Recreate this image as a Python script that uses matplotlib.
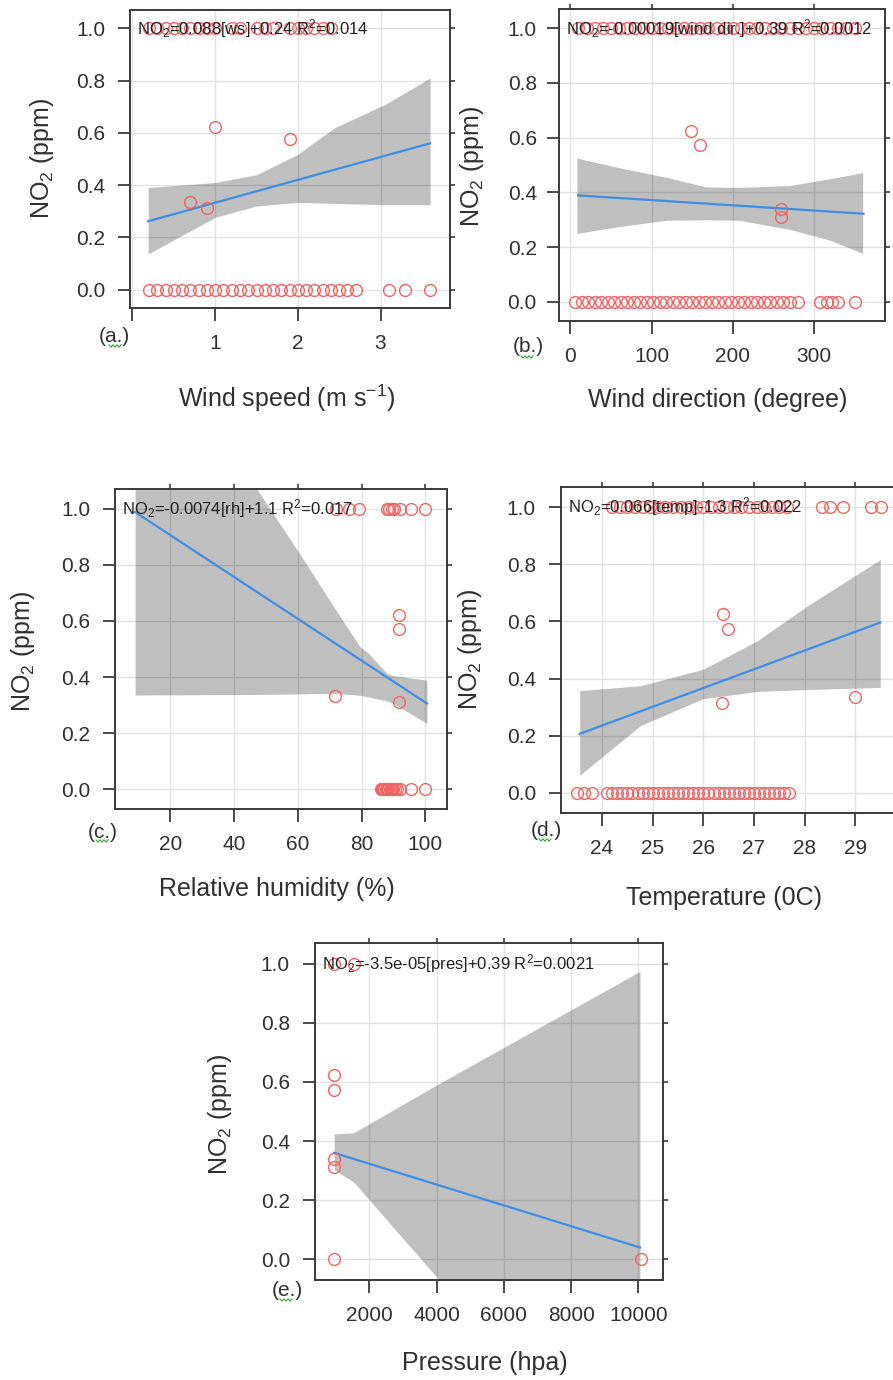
import matplotlib
matplotlib.use("Agg")
import matplotlib.pyplot as plt
from matplotlib.lines import Line2D

plt.rcParams['font.family'] = ['Liberation Sans', 'DejaVu Sans']
plt.rcParams['mathtext.fontset'] = 'custom'
plt.rcParams['mathtext.rm'] = 'Liberation Sans'
plt.rcParams['mathtext.it'] = 'Liberation Sans:italic'
plt.rcParams['mathtext.bf'] = 'Liberation Sans:bold'

W, H = 893, 1380

# ---------------- data ----------------
y_ticks = [0.0, 0.2, 0.4, 0.6, 0.8, 1.0]
y_ticklabels = ["0.0", "0.2", "0.4", "0.6", "0.8", "1.0"]

# (a) wind speed
ws_zero = [0.2, 0.3, 0.4, 0.5, 0.6, 0.7, 0.8, 0.9, 1.0, 1.1, 1.2, 1.3, 1.4, 1.5,
           1.6, 1.7, 1.8, 1.9, 2.0, 2.1, 2.2, 2.3, 2.4, 2.5, 2.6, 2.7, 3.1, 3.3, 3.6]
ws_one = [0.2, 0.3, 0.4, 0.5, 0.6, 0.7, 0.8, 0.9, 1.0, 1.2, 1.3, 1.5, 1.6, 1.7,
          1.9, 2.0, 2.1, 2.2, 2.3, 2.4]
ws_mid_x = [0.69, 0.90, 1.00, 1.90]
ws_mid_y = [0.334, 0.312, 0.623, 0.575]
ws_fit_x = [0.19, 3.60]
ws_fit_y = [0.262, 0.560]
ws_band_x = [0.19, 1.0, 1.5, 2.0, 2.44, 3.05, 3.6]
ws_band_lo = [0.137, 0.277, 0.320, 0.334, 0.330, 0.325, 0.325]
ws_band_hi = [0.391, 0.410, 0.440, 0.518, 0.619, 0.708, 0.810]
ws_xticks = [0, 1, 2, 3]
ws_xticklabels = ["", "1", "2", "3"]

# (b) wind direction
wd_zero = [6, 14, 22, 30, 38, 46, 54, 62, 70, 78, 86, 94, 102, 110, 118, 126, 134,
           142, 150, 158, 166, 174, 182, 190, 198, 206, 214, 222, 230, 238, 246,
           254, 262, 270, 280, 308, 316, 322, 330, 350]
wd_one = [10, 20, 30, 40, 50, 60, 70, 80, 90, 100, 110, 120, 130, 140, 150, 160,
          170, 180, 190, 200, 210, 220, 230, 240, 250, 260, 270, 280, 290, 300,
          310, 320, 330, 340, 350]
wd_mid_x = [149, 160, 259, 259]
wd_mid_y = [0.624, 0.573, 0.338, 0.311]
wd_fit_x = [9.5, 361]
wd_fit_y = [0.389, 0.322]
wd_band_x = [8, 60, 118, 167, 208, 270, 320, 360]
wd_band_hi = [0.525, 0.490, 0.455, 0.420, 0.418, 0.425, 0.450, 0.472]
wd_band_lo = [0.250, 0.275, 0.298, 0.300, 0.298, 0.265, 0.225, 0.177]
wd_xticks = [0, 100, 200, 300]

# (c) relative humidity
rh_zero = [86.0, 86.4, 86.8, 87.2, 87.6, 88.0, 88.4, 88.8, 89.2, 89.6, 90.0, 90.5,
           91.0, 92.0, 95.5, 100.0]
rh_one = [72.0, 76.0, 79.1, 88.0, 88.7, 89.4, 90.2, 92.2, 95.4, 100.0]
rh_mid_x = [71.6, 91.6, 91.6, 91.6]
rh_mid_y = [0.333, 0.312, 0.620, 0.571]
rh_fit_x = [9.0, 100.5]
rh_fit_y = [0.988, 0.306]
rh_band_x = [9.0, 47.2, 60.0, 71.3, 79.6, 81.7, 88.0, 90.0, 100.5]
rh_band_hi = [1.73, 1.069, 0.85, 0.65, 0.507, 0.49, 0.413, 0.405, 0.389]
rh_band_lo = [0.336, 0.338, 0.340, 0.342, 0.335, 0.330, 0.315, 0.306, 0.235]
rh_xticks = [20, 40, 60, 80, 100]

# (d) temperature
tp_zero = [23.5, 23.65, 23.8, 24.1, 24.2, 24.3, 24.4, 24.5, 24.6, 24.7, 24.8, 24.9,
           25.0, 25.1, 25.2, 25.3, 25.4, 25.5, 25.6, 25.7, 25.8, 25.9, 26.0, 26.1,
           26.2, 26.3, 26.4, 26.5, 26.6, 26.7, 26.8, 26.9, 27.0, 27.1, 27.2, 27.3,
           27.4, 27.5, 27.6, 27.68]
tp_one = [24.2, 24.35, 24.5, 24.65, 24.8, 24.95, 25.1, 25.25, 25.4, 25.55, 25.7,
          25.85, 26.0, 26.15, 26.3, 26.45, 26.6, 26.75, 26.9, 27.05, 27.2, 27.35,
          27.5, 27.65, 28.35, 28.5, 28.75, 29.3, 29.5]
tp_mid_x = [26.39, 26.48, 26.37, 29.0]
tp_mid_y = [0.627, 0.573, 0.314, 0.334]
tp_fit_x = [23.56, 29.49]
tp_fit_y = [0.207, 0.596]
tp_band_x = [23.56, 24.76, 26.0, 27.06, 28.05, 29.49]
tp_band_hi = [0.358, 0.375, 0.433, 0.532, 0.654, 0.816]
tp_band_lo = [0.062, 0.236, 0.330, 0.355, 0.362, 0.369]
tp_xticks = [24, 25, 26, 27, 28, 29]

# (e) pressure
pr_x = [950, 950, 950, 950, 950, 950, 1525, 10070]
pr_y = [0.0, 0.313, 0.339, 0.573, 0.624, 1.0, 1.0, 0.0]
pr_fit_x = [950, 10050]
pr_fit_y = [0.360, 0.040]
pr_band_x = [950, 1525, 4000, 10050]
pr_band_hi = [0.424, 0.428, 0.590, 0.974]
pr_band_lo = [0.302, 0.262, -0.060, -0.750]
pr_xticks = [2000, 4000, 6000, 8000, 10000]

# ---------------- style ----------------
FRAME = '#3a3a3a'
TXT = '#303030'
GRID = '#e2e2e2'
PT = '#f06464'
LINE = '#3d8ee6'
TICK_PT = 15
LAB_PT = 18
ANN_PT = 12
YLIM = (-0.07, 1.07)

fig = plt.figure(figsize=(W / 100, H / 100), dpi=100)


def fx(x):
    return x / W


def fy(y):
    return 1 - y / H


def make_ax(l, r, t, b, xlim, xticks, xticklabels=None,
            top=True, right=True, ypad=9, xpad=10):
    ax = fig.add_axes([fx(l), fy(b), (r - l) / W, (b - t) / H])
    ax.set_xlim(*xlim)
    ax.set_ylim(*YLIM)
    ax.set_xticks(xticks)
    if xticklabels is None:
        xticklabels = [str(v) for v in xticks]
    ax.set_xticklabels(xticklabels)
    ax.set_yticks(y_ticks)
    ax.set_yticklabels(y_ticklabels)
    ax.grid(True, color=GRID, lw=1.0, zorder=0)
    ax.set_axisbelow(True)
    for s in ax.spines.values():
        s.set_color(FRAME)
        s.set_linewidth(1.4)
    ax.tick_params(axis='y', direction='out', length=9, width=1.3, color=FRAME,
                   labelsize=TICK_PT, labelcolor=TXT, pad=ypad)
    ax.tick_params(axis='x', direction='out', length=9, width=1.3, color=FRAME,
                   labelsize=TICK_PT, labelcolor=TXT, pad=xpad)
    if top:
        s = ax.secondary_xaxis('top')
        s.set_xticks(xticks)
        s.tick_params(direction='out', length=3.5, width=1.2, color=FRAME,
                      labeltop=False)
        s.spines['top'].set_visible(False)
    if right:
        s = ax.secondary_yaxis('right')
        s.set_yticks(y_ticks)
        s.tick_params(direction='out', length=3.5, width=1.2, color=FRAME,
                      labelright=False)
        s.spines['right'].set_visible(False)
    return ax


def draw(ax, bx, blo, bhi, fx_, fy_, px, py, text):
    ax.fill_between(bx, blo, bhi, color='black', alpha=0.25, lw=0, zorder=2)
    ax.plot(fx_, fy_, color=LINE, lw=1.6, zorder=3)
    ax.plot(px, py, 'o', ms=8.5, mfc='none', mec=PT, mew=1.0, zorder=4)
    ax.annotate(text, xy=(0, 1.0), xycoords=('axes fraction', 'data'),
                xytext=(5, 0), textcoords='offset points', va='center',
                ha='left', fontsize=ANN_PT, color='#222222', zorder=6)


def squiggle(x0, y0, w=12):
    xs = [x0 + i * 2 for i in range(int(w / 2) + 1)]
    ys = [y0 + (1.2 if i % 2 else -1.2) for i in range(len(xs))]
    fig.add_artist(Line2D([fx(v) for v in xs], [fy(v) for v in ys],
                          color='#3aa03a', lw=0.8))


# ---- (a) ----
ax = make_ax(130, 450, 10, 308, (-0.03, 3.84), ws_xticks, ws_xticklabels, top=False)
draw(ax, ws_band_x, ws_band_lo, ws_band_hi, ws_fit_x, ws_fit_y,
     ws_zero + ws_one + ws_mid_x,
     [0.0] * len(ws_zero) + [1.0] * len(ws_one) + ws_mid_y,
     r'NO$_2$=0.088[ws]+0.24 R$^2$=0.014')
fig.text(fx(114), fy(337), '(a.)', fontsize=TICK_PT, color=TXT, ha='center', va='center')
squiggle(109, 346)
fig.text(fx(287), fy(398), r'Wind speed (m s$^{-1}$)', fontsize=LAB_PT, color=TXT,
         ha='center', va='center')
fig.text(fx(42), fy(159), r'NO$_2$ (ppm)', fontsize=LAB_PT, color=TXT,
         ha='center', va='center', rotation=90)

# ---- (b) ----
ax = make_ax(559, 885, 9, 321, (-14, 387.5), wd_xticks, ypad=7)
draw(ax, wd_band_x, wd_band_lo, wd_band_hi, wd_fit_x, wd_fit_y,
     wd_zero + wd_one + wd_mid_x,
     [0.0] * len(wd_zero) + [1.0] * len(wd_one) + wd_mid_y,
     r'NO$_2$=-0.00019[wind dir.]+0.39 R$^2$=0.0012')
fig.text(fx(528), fy(347), '(b.)', fontsize=TICK_PT, color=TXT, ha='center', va='center')
squiggle(521, 357)
fig.text(fx(718), fy(400), 'Wind direction (degree)', fontsize=LAB_PT, color=TXT,
         ha='center', va='center')
fig.text(fx(472), fy(167), r'NO$_2$ (ppm)', fontsize=LAB_PT, color=TXT,
         ha='center', va='center', rotation=90)

# ---- (c) ----
ax = make_ax(115, 447, 489, 809, (2.7, 106.8), rh_xticks)
draw(ax, rh_band_x, rh_band_lo, rh_band_hi, rh_fit_x, rh_fit_y,
     rh_zero + rh_one + rh_mid_x,
     [0.0] * len(rh_zero) + [1.0] * len(rh_one) + rh_mid_y,
     r'NO$_2$=-0.0074[rh]+1.1 R$^2$=0.017')
fig.text(fx(103), fy(832), '(c.)', fontsize=TICK_PT, color=TXT, ha='center', va='center')
squiggle(96, 841)
fig.text(fx(277), fy(889), 'Relative humidity (%)', fontsize=LAB_PT, color=TXT,
         ha='center', va='center')
fig.text(fx(23), fy(652), r'NO$_2$ (ppm)', fontsize=LAB_PT, color=TXT,
         ha='center', va='center', rotation=90)

# ---- (d) ----
ax = make_ax(561, 901, 487, 813, (23.19, 29.9), tp_xticks)
draw(ax, tp_band_x, tp_band_lo, tp_band_hi, tp_fit_x, tp_fit_y,
     tp_zero + tp_one + tp_mid_x,
     [0.0] * len(tp_zero) + [1.0] * len(tp_one) + tp_mid_y,
     r'NO$_2$=0.066[temp]-1.3 R$^2$=0.022')
fig.text(fx(546), fy(830), '(d.)', fontsize=TICK_PT, color=TXT, ha='center', va='center')
squiggle(539, 840)
fig.text(fx(724), fy(898), 'Temperature (0C)', fontsize=LAB_PT, color=TXT,
         ha='center', va='center')
fig.text(fx(470), fy(650), r'NO$_2$ (ppm)', fontsize=LAB_PT, color=TXT,
         ha='center', va='center', rotation=90)

# ---- (e) ----
ax = make_ax(315, 663, 943, 1280, (378, 10736), pr_xticks)
draw(ax, pr_band_x, pr_band_lo, pr_band_hi, pr_fit_x, pr_fit_y,
     pr_x, pr_y, r'NO$_2$=-3.5e-05[pres]+0.39 R$^2$=0.0021')
fig.text(fx(287), fy(1290), '(e.)', fontsize=TICK_PT, color=TXT, ha='center', va='center')
squiggle(280, 1300)
fig.text(fx(485), fy(1363), 'Pressure (hpa)', fontsize=LAB_PT, color=TXT,
         ha='center', va='center')
fig.text(fx(220), fy(1115), r'NO$_2$ (ppm)', fontsize=LAB_PT, color=TXT,
         ha='center', va='center', rotation=90)

fig.savefig('out.png', dpi=100)
